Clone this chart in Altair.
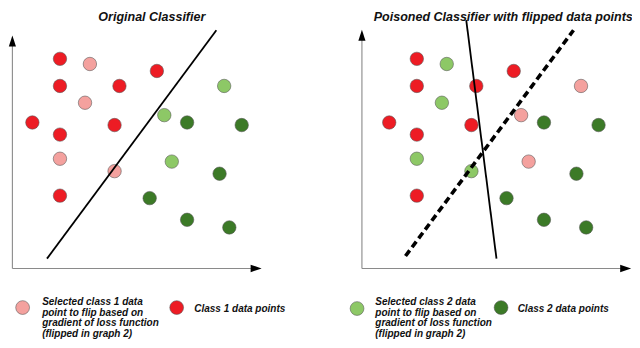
import altair as alt
import pandas as pd

# ---------------- data (figure units: x to the right, y downward) ----------------
# point positions in the left panel (the right panel repeats them, shifted)
PX = [53.3, 84.0, 152.7, 53.3, 114.3, 221.7, 79.0, 160.3, 183.7, 25.0, 109.3,
      239.7, 53.3, 53.3, 168.0, 109.3, 217.0, 53.3, 145.3, 183.7, 227.0]
PY = [53.3, 58.7, 66.0, 81.7, 81.7, 81.7, 99.3, 112.3, 120.0, 120.0, 122.7,
      122.7, 132.7, 158.0, 161.0, 171.0, 173.7, 196.7, 199.3, 222.0, 230.0]
# c1 = class 1, s1 = selected class 1, c2 = class 2, s2 = selected class 2
CLASS_ORIGINAL = ["c1", "s1", "c1", "c1", "c1", "s2", "s1", "s2", "c2", "c1", "c1",
                  "c2", "c1", "s1", "s2", "s1", "c2", "c1", "c2", "c2", "c2"]
CLASS_POISONED = ["c1", "s2", "c1", "c1", "c1", "s1", "s2", "s1", "c2", "c1", "c1",
                  "c2", "c1", "s2", "s1", "s2", "c2", "c1", "c2", "c2", "c2"]
PANEL_SHIFT = 366

# classifier boundaries
LINE_X1 = [40.0, 470.0, 407.7]
LINE_Y1 = [262.7, 12.7, 260.0]
LINE_X2 = [213.7, 501.0, 580.0]
LINE_Y2 = [23.3, 262.7, 23.3]
LINE_KIND = ["solid", "solid", "dashed"]

# axes (line segments + arrow heads)
AXIS_X1 = [4.5, 4.5, 363.0, 363.0]
AXIS_Y1 = [273.0, 273.0, 273.0, 273.0]
AXIS_X2 = [4.5, 250.0, 363.0, 629.0]
AXIS_Y2 = [38.0, 273.0, 32.0, 273.0]
ARROW_UP_X = [4.5, 363.0]
ARROW_UP_Y = [34.5, 28.5]
ARROW_RIGHT_X = [254.5, 633.5]
ARROW_RIGHT_Y = [273.0, 273.0]

# titles
TITLES = ["Original Classifier", "Poisoned Classifier with flipped data points"]
TITLE_X = [147.5, 508.0]
TITLE_Y = [13.5, 13.5]

# legend
LEG_CLASS = ["s1", "c1", "s2", "c2"]
LEG_X = [15.0, 173.0, 358.0, 505.7]
LEG_Y = [314.0, 314.0, 315.0, 314.0]
LEG_TEXT = [
    "Selected class 1 data", "point to flip based on", "gradient of loss function", "(flipped in graph 2)",
    "Class 1 data points",
    "Selected class 2 data", "point to flip based on", "gradient of loss function", "(flipped in graph 2)",
    "Class 2 data points",
]
LEG_TEXT_X = [35.0, 35.0, 35.0, 35.0, 191.0, 376.7, 376.7, 376.7, 376.7, 522.7]
LEG_TEXT_Y = [311.5, 322.5, 333.5, 344.5, 319.0, 311.5, 322.5, 333.5, 344.5, 319.0]

CLASS_DOMAIN = ["c1", "s1", "c2", "s2"]
CLASS_COLORS = ["#ED1C24", "#F4A19E", "#3C7A27", "#8DC866"]

# ---------------- tables ----------------
points = pd.DataFrame({
    "x": PX + [v + PANEL_SHIFT for v in PX],
    "y": PY + PY,
    "cls": CLASS_ORIGINAL + CLASS_POISONED,
})
lines = pd.DataFrame({"x": LINE_X1, "y": LINE_Y1, "x2": LINE_X2, "y2": LINE_Y2, "kind": LINE_KIND})
axes = pd.DataFrame({"x": AXIS_X1, "y": AXIS_Y1, "x2": AXIS_X2, "y2": AXIS_Y2})
arrows_up = pd.DataFrame({"x": ARROW_UP_X, "y": ARROW_UP_Y})
arrows_right = pd.DataFrame({"x": ARROW_RIGHT_X, "y": ARROW_RIGHT_Y})
titles = pd.DataFrame({"x": TITLE_X, "y": TITLE_Y, "text": TITLES})
legend_pts = pd.DataFrame({"x": LEG_X, "y": LEG_Y, "cls": LEG_CLASS})
legend_txt = pd.DataFrame({"x": LEG_TEXT_X, "y": LEG_TEXT_Y, "text": LEG_TEXT})

X = alt.X("x:Q", scale=alt.Scale(domain=[0, 640], nice=False, zero=False), axis=None)
Y = alt.Y("y:Q", scale=alt.Scale(domain=[0, 348], nice=False, zero=False, reverse=True), axis=None)
COLOR = alt.Color("cls:N", scale=alt.Scale(domain=CLASS_DOMAIN, range=CLASS_COLORS), legend=None)
FONT = "Liberation Sans"

axis_lines = alt.Chart(axes).mark_rule(color="#8a8a8a", strokeWidth=1.1).encode(
    x=X, y=Y, x2="x2:Q", y2="y2:Q")
head_up = alt.Chart(arrows_up).mark_point(
    shape="M0,-1L-0.65,1L0.65,1Z", size=121, filled=True, color="black", opacity=1).encode(x=X, y=Y)
head_right = alt.Chart(arrows_right).mark_point(
    shape="M1,0L-1,-0.68L-1,0.68Z", size=121, filled=True, color="black", opacity=1).encode(x=X, y=Y)

dots = alt.Chart(points).mark_circle(
    size=180, opacity=1, stroke="#555555", strokeWidth=0.8, strokeOpacity=0.7).encode(
    x=X, y=Y, color=COLOR)

solid = alt.Chart(lines).transform_filter(alt.datum.kind == "solid").mark_rule(
    color="black", strokeWidth=1.8).encode(x=X, y=Y, x2="x2:Q", y2="y2:Q")
dashed = alt.Chart(lines).transform_filter(alt.datum.kind == "dashed").mark_rule(
    color="black", strokeWidth=3.6, strokeDash=[7, 4]).encode(x=X, y=Y, x2="x2:Q", y2="y2:Q")

title_text = alt.Chart(titles).mark_text(
    align="center", baseline="alphabetic", font=FONT, fontStyle="italic", fontWeight="bold",
    fontSize=12.5, color="#111111").encode(x=X, y=Y, text="text:N")

leg_dots = alt.Chart(legend_pts).mark_circle(
    size=190, opacity=1, stroke="#555555", strokeWidth=0.8, strokeOpacity=0.7).encode(
    x=X, y=Y, color=COLOR)
leg_text = alt.Chart(legend_txt).mark_text(
    align="left", baseline="alphabetic", font=FONT, fontStyle="italic", fontWeight="bold",
    fontSize=10, color="#111111").encode(x=X, y=Y, text="text:N")

chart = alt.layer(
    axis_lines, head_up, head_right, dots, solid, dashed, title_text, leg_dots, leg_text
).properties(
    width=624, height=332, padding=0, autosize="none", background="white"
).configure_view(stroke=None)

chart.save("out.html", embed_options={"renderer": "svg", "actions": False})
